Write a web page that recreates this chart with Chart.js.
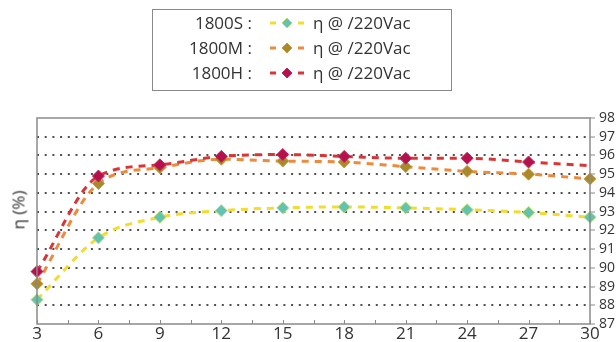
<!DOCTYPE html>
<html><head><meta charset="utf-8">
<script src="https://cdn.jsdelivr.net/npm/chart.js@4"></script>
<style>
body{margin:0;background:#fff;}
#wrap{position:relative;width:616px;height:342px;overflow:hidden;font-family:'Open Sans',sans-serif;color:#333;}
#legend{position:absolute;left:152px;top:9px;width:300px;height:82px;border:1.5px solid #8a8a8a;box-sizing:border-box;font-size:17px;}
.row{position:absolute;left:0;width:100%;height:22px;line-height:22px;white-space:nowrap;}
.lab{position:absolute;right:199px;text-align:right;}
.sw{position:absolute;left:114px;top:3px;}
.txt{position:absolute;left:160px;}
#ytitle{position:absolute;left:18px;top:210px;transform:translate(-50%,-50%) rotate(-90deg);font-size:17px;white-space:nowrap;}
canvas{position:absolute;left:0;top:0;}
</style></head>
<body><div id="wrap">
<canvas id="c" width="616" height="342"></canvas>
<div id="legend"></div>
<div id="ytitle">η (%)</div>
</div>
<script>
const xValues = [3, 6, 9, 12, 15, 18, 21, 24, 27, 30];
const xTickLabels = [3, 6, 9, 12, 15, 18, 21, 24, 27, 30];
const yTickLabels = [87, 88, 89, 90, 91, 92, 93, 94, 95, 96, 97, 98];
const seriesNames = ['1800S :', '1800M :', '1800H :'];
const seriesLabel = 'η @ /220Vac';
const eff1800S = [88.3, 91.6, 92.7, 93.05, 93.2, 93.25, 93.2, 93.1, 92.95, 92.7];
const eff1800M = [89.15, 94.5, 95.35, 95.8, 95.7, 95.65, 95.4, 95.15, 95.0, 94.75];
const eff1800H = [89.8, 94.9, 95.5, 95.95, 96.05, 95.95, 95.85, 95.85, 95.65, 95.45];

const styles = [
  {line:'#f2dc2e', fill:'#63c3b0', border:'#b5e26a'},
  {line:'#ee8a3a', fill:'#a8892c', border:'#d09a40'},
  {line:'#dc3434', fill:'#b3124d', border:'#c8245a'}
];
const allSeries = [eff1800S, eff1800M, eff1800H];

// HTML legend
const leg = document.getElementById('legend');
const rowTops = [2, 27, 52];
seriesNames.forEach((n, i) => {
  const s = styles[i];
  const row = document.createElement('div');
  row.className = 'row';
  row.style.top = rowTops[i] + 'px';
  row.innerHTML = '<span class="lab">' + n + '</span>' +
    '<svg class="sw" width="40" height="16"><line x1="3" y1="8" x2="9" y2="8" stroke="' + s.line + '" stroke-width="3"/>' +
    '<polygon points="20,3 25,8 20,13 15,8" fill="' + s.fill + '" stroke="' + s.border + '" stroke-width="1"/>' +
    '<line x1="31" y1="8" x2="37" y2="8" stroke="' + s.line + '" stroke-width="3"/></svg>' +
    '<span class="txt">' + seriesLabel + '</span>';
  leg.appendChild(row);
});

const frame = {
  id: 'frame',
  afterDraw(chart) {
    const {ctx, chartArea: a, scales} = chart;
    ctx.save();
    ctx.strokeStyle = '#8a8a8a';
    ctx.lineWidth = 1.5;
    ctx.setLineDash([]);
    ctx.strokeRect(a.left, a.top, a.right - a.left, a.bottom - a.top);
    ctx.lineWidth = 1;
    scales.x.ticks.forEach(t => {
      const px = Math.round(scales.x.getPixelForValue(t.value)) + 0.5;
      ctx.beginPath(); ctx.moveTo(px, a.bottom); ctx.lineTo(px, a.bottom - 4); ctx.stroke();
    });
    ctx.restore();
  }
};

const datasets = allSeries.map((d, i) => ({
  label: seriesNames[i],
  data: d.map((v, j) => ({x: xValues[j], y: v})),
  borderColor: styles[i].line,
  borderWidth: 3,
  borderDash: [7, 6],
  fill: false,
  cubicInterpolationMode: 'monotone',
  pointStyle: 'rectRot',
  pointRadius: i === 2 ? d.map((v, j) => j === d.length - 1 ? 0 : 6) : 6,
  pointBackgroundColor: styles[i].fill,
  pointBorderColor: styles[i].border,
  pointBorderWidth: 1,
  clip: false,
  order: 2 - i
}));

new Chart(document.getElementById('c'), {
  type: 'line',
  data: {datasets},
  plugins: [frame],
  options: {
    responsive: false,
    devicePixelRatio: 1,
    animation: false,
    layout: {padding: {left: 37, top: 118, right: 0, bottom: 0}},
    plugins: {legend: {display: false}, tooltip: {enabled: false}},
    scales: {
      x: {
        type: 'linear', min: 3, max: 30,
        afterBuildTicks(s) {
          const t = [];
          xTickLabels.forEach((v, i) => {
            t.push({value: v});
            if (i < xTickLabels.length - 1) t.push({value: (v + xTickLabels[i + 1]) / 2});
          });
          s.ticks = t;
        },
        afterFit(s) { s.height = 18; },
        ticks: {
          autoSkip: false, maxRotation: 0, padding: 0,
          font: {family: 'Open Sans', size: 17}, color: '#333',
          callback: v => xTickLabels.includes(v) ? String(v) : ''
        },
        grid: {drawOnChartArea: false, drawTicks: false},
        border: {display: false}
      },
      y: {
        position: 'right', min: 87, max: 98,
        afterBuildTicks(s) { s.ticks = yTickLabels.map(v => ({value: v})); },
        afterFit(s) { s.width = 26; },
        ticks: {autoSkip: false, padding: 4, font: {family: 'Open Sans', size: 14}, color: '#333'},
        grid: {
          color: c => (c.tick && (c.tick.value === 87 || c.tick.value === 98)) ? 'rgba(0,0,0,0)' : '#505050',
          lineWidth: 2,
          drawTicks: true, tickLength: 5, tickColor: '#8a8a8a', tickWidth: 1
        },
        border: {display: false, dash: [2, 5.7]}
      }
    }
  }
});
</script>
</body></html>
